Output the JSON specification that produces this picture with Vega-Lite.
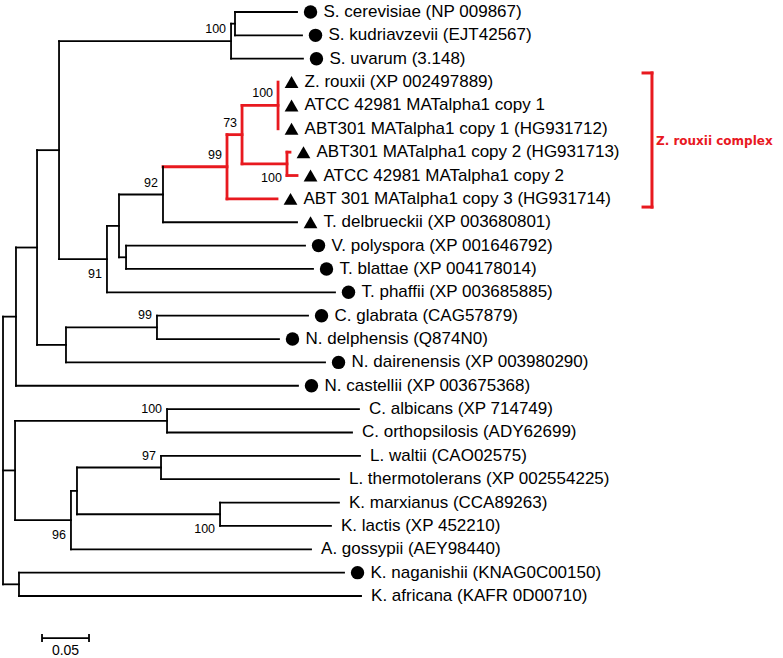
{
  "$schema": "https://vega.github.io/schema/vega-lite/v6.json",
  "width": 783,
  "height": 658,
  "padding": 0,
  "autosize": "none",
  "background": "white",
  "config": {"view": {"stroke": null}},
  "datasets": {
    "tree": [
      {"x": 0.2468, "x2": 0.3128, "y": 0, "y2": 0, "clade": "other"},
      {"x": 0.2468, "x2": 0.3181, "y": 1, "y2": 1, "clade": "other"},
      {"x": 0.2426, "x2": 0.3191, "y": 2, "y2": 2, "clade": "other"},
      {"x": 0.3021, "x2": 0.3053, "y": 6, "y2": 6, "clade": "Z. rouxii complex"},
      {"x": 0.3021, "x2": 0.3128, "y": 7, "y2": 7, "clade": "Z. rouxii complex"},
      {"x": 0.2383, "x2": 0.2915, "y": 8, "y2": 8, "clade": "Z. rouxii complex"},
      {"x": 0.1702, "x2": 0.3128, "y": 9, "y2": 9, "clade": "other"},
      {"x": 0.1309, "x2": 0.3213, "y": 10, "y2": 10, "clade": "other"},
      {"x": 0.1309, "x2": 0.3298, "y": 11, "y2": 11, "clade": "other"},
      {"x": 0.1106, "x2": 0.3532, "y": 12, "y2": 12, "clade": "other"},
      {"x": 0.1638, "x2": 0.3245, "y": 13, "y2": 13, "clade": "other"},
      {"x": 0.1638, "x2": 0.2936, "y": 14, "y2": 14, "clade": "other"},
      {"x": 0.067, "x2": 0.3426, "y": 15, "y2": 15, "clade": "other"},
      {"x": 0.0138, "x2": 0.3138, "y": 16, "y2": 16, "clade": "other"},
      {"x": 0.1745, "x2": 0.3787, "y": 17, "y2": 17, "clade": "other"},
      {"x": 0.1745, "x2": 0.3713, "y": 18, "y2": 18, "clade": "other"},
      {"x": 0.1681, "x2": 0.3798, "y": 19, "y2": 19, "clade": "other"},
      {"x": 0.1681, "x2": 0.3574, "y": 20, "y2": 20, "clade": "other"},
      {"x": 0.2309, "x2": 0.3574, "y": 21, "y2": 21, "clade": "other"},
      {"x": 0.2309, "x2": 0.3489, "y": 22, "y2": 22, "clade": "other"},
      {"x": 0.0723, "x2": 0.3277, "y": 23, "y2": 23, "clade": "other"},
      {"x": 0.017, "x2": 0.3628, "y": 24, "y2": 24, "clade": "other"},
      {"x": 0.017, "x2": 0.3809, "y": 25, "y2": 25, "clade": "other"},
      {"x": 0.2426, "x2": 0.2468, "y": 0.5, "y2": 0.5, "clade": "other"},
      {"x": 0.0596, "x2": 0.2426, "y": 1.25, "y2": 1.25, "clade": "other"},
      {"x": 0.2543, "x2": 0.2926, "y": 4, "y2": 4, "clade": "Z. rouxii complex"},
      {"x": 0.2543, "x2": 0.3021, "y": 6.5, "y2": 6.5, "clade": "Z. rouxii complex"},
      {"x": 0.2383, "x2": 0.2543, "y": 5.25, "y2": 5.25, "clade": "Z. rouxii complex"},
      {"x": 0.1702, "x2": 0.2383, "y": 6.625, "y2": 6.625, "clade": "Z. rouxii complex"},
      {"x": 0.1234, "x2": 0.1702, "y": 7.8125, "y2": 7.8125, "clade": "other"},
      {"x": 0.1234, "x2": 0.1309, "y": 10.5, "y2": 10.5, "clade": "other"},
      {"x": 0.1106, "x2": 0.1234, "y": 9.15625, "y2": 9.15625, "clade": "other"},
      {"x": 0.0596, "x2": 0.1106, "y": 10.578, "y2": 10.578, "clade": "other"},
      {"x": 0.0362, "x2": 0.0596, "y": 5.914, "y2": 5.914, "clade": "other"},
      {"x": 0.067, "x2": 0.1638, "y": 13.5, "y2": 13.5, "clade": "other"},
      {"x": 0.0362, "x2": 0.067, "y": 14.25, "y2": 14.25, "clade": "other"},
      {"x": 0.0138, "x2": 0.0362, "y": 10.082, "y2": 10.082, "clade": "other"},
      {"x": 0, "x2": 0.0138, "y": 13.041, "y2": 13.041, "clade": "other"},
      {"x": 0.0128, "x2": 0.1745, "y": 17.5, "y2": 17.5, "clade": "other"},
      {"x": 0.0787, "x2": 0.1681, "y": 19.5, "y2": 19.5, "clade": "other"},
      {"x": 0.0787, "x2": 0.2309, "y": 21.5, "y2": 21.5, "clade": "other"},
      {"x": 0.0723, "x2": 0.0787, "y": 20.5, "y2": 20.5, "clade": "other"},
      {"x": 0.0128, "x2": 0.0723, "y": 21.75, "y2": 21.75, "clade": "other"},
      {"x": 0, "x2": 0.0128, "y": 19.625, "y2": 19.625, "clade": "other"},
      {"x": 0, "x2": 0.017, "y": 24.5, "y2": 24.5, "clade": "other"},
      {"x": 0.2468, "x2": 0.2468, "y": 0, "y2": 1, "clade": "other"},
      {"x": 0.2426, "x2": 0.2426, "y": 0.5, "y2": 2, "clade": "other"},
      {"x": 0.2926, "x2": 0.2926, "y": 3, "y2": 5, "clade": "Z. rouxii complex"},
      {"x": 0.3021, "x2": 0.3021, "y": 6, "y2": 7, "clade": "Z. rouxii complex"},
      {"x": 0.2543, "x2": 0.2543, "y": 4, "y2": 6.5, "clade": "Z. rouxii complex"},
      {"x": 0.2383, "x2": 0.2383, "y": 5.25, "y2": 8, "clade": "Z. rouxii complex"},
      {"x": 0.1702, "x2": 0.1702, "y": 6.625, "y2": 9, "clade": "other"},
      {"x": 0.1309, "x2": 0.1309, "y": 10, "y2": 11, "clade": "other"},
      {"x": 0.1234, "x2": 0.1234, "y": 7.8125, "y2": 10.5, "clade": "other"},
      {"x": 0.1106, "x2": 0.1106, "y": 9.15625, "y2": 12, "clade": "other"},
      {"x": 0.0596, "x2": 0.0596, "y": 1.25, "y2": 10.578, "clade": "other"},
      {"x": 0.1638, "x2": 0.1638, "y": 13, "y2": 14, "clade": "other"},
      {"x": 0.067, "x2": 0.067, "y": 13.5, "y2": 15, "clade": "other"},
      {"x": 0.0362, "x2": 0.0362, "y": 5.914, "y2": 14.25, "clade": "other"},
      {"x": 0.0138, "x2": 0.0138, "y": 10.082, "y2": 16, "clade": "other"},
      {"x": 0.1745, "x2": 0.1745, "y": 17, "y2": 18, "clade": "other"},
      {"x": 0.1681, "x2": 0.1681, "y": 19, "y2": 20, "clade": "other"},
      {"x": 0.2309, "x2": 0.2309, "y": 21, "y2": 22, "clade": "other"},
      {"x": 0.0787, "x2": 0.0787, "y": 19.5, "y2": 21.5, "clade": "other"},
      {"x": 0.0723, "x2": 0.0723, "y": 20.5, "y2": 23, "clade": "other"},
      {"x": 0.0128, "x2": 0.0128, "y": 17.5, "y2": 21.75, "clade": "other"},
      {"x": 0.017, "x2": 0.017, "y": 24, "y2": 25, "clade": "other"},
      {"x": 0, "x2": 0, "y": 13.041, "y2": 24.5, "clade": "other"}
    ],
    "leaves": [
      {"label": "\u00a0S. cerevisiae (NP 009867)", "x": 0.3128, "y": 0, "marker": "circle"},
      {"label": "S. kudriavzevii (EJT42567)", "x": 0.3181, "y": 1, "marker": "circle"},
      {"label": "S. uvarum (3.148)", "x": 0.3191, "y": 2, "marker": "circle"},
      {"label": "Z. rouxii (XP 002497889)", "x": 0.2926, "y": 3, "marker": "triangle"},
      {"label": "\u00a0ATCC 42981 MATalpha1 copy 1", "x": 0.2926, "y": 4, "marker": "triangle"},
      {"label": "ABT301 MATalpha1 copy 1 (HG931712)", "x": 0.2926, "y": 5, "marker": "triangle"},
      {"label": "ABT301 MATalpha1 copy 2 (HG931713)", "x": 0.3053, "y": 6, "marker": "triangle"},
      {"label": "ATCC 42981 MATalpha1 copy 2", "x": 0.3128, "y": 7, "marker": "triangle"},
      {"label": "ABT 301 MATalpha1 copy 3 (HG931714)", "x": 0.2915, "y": 8, "marker": "triangle"},
      {"label": "T. delbrueckii (XP 003680801)", "x": 0.3128, "y": 9, "marker": "triangle"},
      {"label": "\u00a0V. polyspora (XP 001646792)", "x": 0.3213, "y": 10, "marker": "circle"},
      {"label": "\u00a0T. blattae (XP 004178014)", "x": 0.3298, "y": 11, "marker": "circle"},
      {"label": "\u00a0T. phaffii (XP 003685885)", "x": 0.3532, "y": 12, "marker": "circle"},
      {"label": "\u00a0C. glabrata (CAG57879)", "x": 0.3245, "y": 13, "marker": "circle"},
      {"label": "\u00a0N. delphensis (Q874N0)", "x": 0.2936, "y": 14, "marker": "circle"},
      {"label": "N. dairenensis (XP 003980290)", "x": 0.3426, "y": 15, "marker": "circle"},
      {"label": "\u00a0N. castellii (XP 003675368)", "x": 0.3138, "y": 16, "marker": "circle"},
      {"label": "C. albicans (XP 714749)", "x": 0.3787, "y": 17, "marker": "none"},
      {"label": "C. orthopsilosis (ADY62699)", "x": 0.3713, "y": 18, "marker": "none"},
      {"label": "L. waltii (CAO02575)", "x": 0.3798, "y": 19, "marker": "none"},
      {"label": "L. thermotolerans (XP 002554225)", "x": 0.3574, "y": 20, "marker": "none"},
      {"label": "K. marxianus (CCA89263)", "x": 0.3574, "y": 21, "marker": "none"},
      {"label": "K. lactis (XP 452210)", "x": 0.3489, "y": 22, "marker": "none"},
      {"label": "A. gossypii (AEY98440)", "x": 0.3277, "y": 23, "marker": "none"},
      {"label": "\u00a0K. naganishii (KNAG0C00150)", "x": 0.3628, "y": 24, "marker": "circle"},
      {"label": "K. africana (KAFR 0D00710)", "x": 0.3809, "y": 25, "marker": "none"}
    ],
    "boot": [
      {"x": 0.2426, "y": 1.25, "value": "100", "side": "above"},
      {"x": 0.2926, "y": 4, "value": "100", "side": "above"},
      {"x": 0.2543, "y": 5.25, "value": "73", "side": "above"},
      {"x": 0.2383, "y": 6.625, "value": "99", "side": "above"},
      {"x": 0.3021, "y": 6.5, "value": "100", "side": "below"},
      {"x": 0.1702, "y": 7.8125, "value": "92", "side": "above"},
      {"x": 0.1106, "y": 10.578, "value": "91", "side": "below"},
      {"x": 0.1638, "y": 13.5, "value": "99", "side": "above"},
      {"x": 0.1745, "y": 17.5, "value": "100", "side": "above"},
      {"x": 0.1681, "y": 19.5, "value": "97", "side": "above"},
      {"x": 0.2309, "y": 21.5, "value": "100", "side": "below"},
      {"x": 0.0723, "y": 21.75, "value": "96", "side": "below"}
    ],
    "bracket": [
      {"x": 0.6809, "x2": 0.6904, "y": 2.61, "y2": 2.61},
      {"x": 0.6904, "x2": 0.6904, "y": 2.61, "y2": 8.35},
      {"x": 0.6809, "x2": 0.6904, "y": 8.35, "y2": 8.35}
    ],
    "bracketLabel": [
      {"x": 0.6904, "y": 5.52, "label": "Z. rouxii complex"}
    ],
    "scalebar": [
      {"x": 0.0415, "x2": 0.0915, "y": 26.8, "y2": 26.8},
      {"x": 0.0415, "x2": 0.0415, "y": 26.63, "y2": 26.97},
      {"x": 0.0915, "x2": 0.0915, "y": 26.63, "y2": 26.97}
    ],
    "scaleLabel": [
      {"x": 0.0665, "y": 26.8, "label": "0.05"}
    ]
  },
  "encoding": {
    "x": {"field": "x", "type": "quantitative", "scale": {"domain": [-0.0032, 0.8298], "nice": false, "zero": false}, "axis": null},
    "y": {"field": "y", "type": "quantitative", "scale": {"domain": [-0.5137, 27.654], "nice": false, "zero": false, "reverse": true}, "axis": null}
  },
  "layer": [
    {
      "data": {"name": "tree"},
      "mark": {"type": "rule", "strokeCap": "square"},
      "encoding": {
        "x2": {"field": "x2"},
        "y2": {"field": "y2"},
        "color": {"field": "clade", "type": "nominal", "scale": {"domain": ["Z. rouxii complex", "other"], "range": ["#e8191f", "#000000"]}, "legend": null},
        "strokeWidth": {"field": "clade", "type": "nominal", "scale": {"domain": ["Z. rouxii complex", "other"], "range": [2.8, 1.8]}, "legend": null}
      }
    },
    {
      "data": {"name": "leaves"},
      "transform": [{"filter": "datum.marker === 'circle'"}],
      "mark": {"type": "point", "shape": "circle", "filled": true, "color": "#000000", "opacity": 1, "size": 180, "xOffset": 13.5}
    },
    {
      "data": {"name": "leaves"},
      "transform": [{"filter": "datum.marker === 'triangle'"}],
      "mark": {"type": "point", "shape": "triangle-up", "filled": true, "color": "#000000", "opacity": 1, "size": 190, "xOffset": 13.5}
    },
    {
      "data": {"name": "leaves"},
      "transform": [{"filter": "datum.marker !== 'none'"}],
      "mark": {"type": "text", "align": "left", "baseline": "middle", "dx": 26.5, "font": "Liberation Sans", "fontSize": 17, "color": "#000000"},
      "encoding": {"text": {"field": "label"}}
    },
    {
      "data": {"name": "leaves"},
      "transform": [{"filter": "datum.marker === 'none'"}],
      "mark": {"type": "text", "align": "left", "baseline": "middle", "dx": 10, "font": "Liberation Sans", "fontSize": 17, "color": "#000000"},
      "encoding": {"text": {"field": "label"}}
    },
    {
      "data": {"name": "boot"},
      "transform": [{"filter": "datum.side === 'above'"}],
      "mark": {"type": "text", "align": "right", "baseline": "middle", "dx": -5, "dy": -12, "font": "Liberation Sans", "fontSize": 12.5, "color": "#000000"},
      "encoding": {"text": {"field": "value"}}
    },
    {
      "data": {"name": "boot"},
      "transform": [{"filter": "datum.side === 'below'"}],
      "mark": {"type": "text", "align": "right", "baseline": "middle", "dx": -5, "dy": 14.5, "font": "Liberation Sans", "fontSize": 12.5, "color": "#000000"},
      "encoding": {"text": {"field": "value"}}
    },
    {
      "data": {"name": "bracket"},
      "mark": {"type": "rule", "color": "#e8191f", "strokeWidth": 3, "strokeCap": "square"},
      "encoding": {"x2": {"field": "x2"}, "y2": {"field": "y2"}}
    },
    {
      "data": {"name": "bracketLabel"},
      "mark": {"type": "text", "align": "left", "baseline": "middle", "dx": 4, "font": "DejaVu Sans", "fontWeight": "bold", "fontSize": 12, "color": "#e8191f"},
      "encoding": {"text": {"field": "label"}}
    },
    {
      "data": {"name": "scalebar"},
      "mark": {"type": "rule", "color": "#000000", "strokeWidth": 1.8},
      "encoding": {"x2": {"field": "x2"}, "y2": {"field": "y2"}}
    },
    {
      "data": {"name": "scaleLabel"},
      "mark": {"type": "text", "align": "center", "baseline": "middle", "dy": 13, "font": "Liberation Sans", "fontSize": 14, "color": "#000000"},
      "encoding": {"text": {"field": "label"}}
    }
  ]
}
